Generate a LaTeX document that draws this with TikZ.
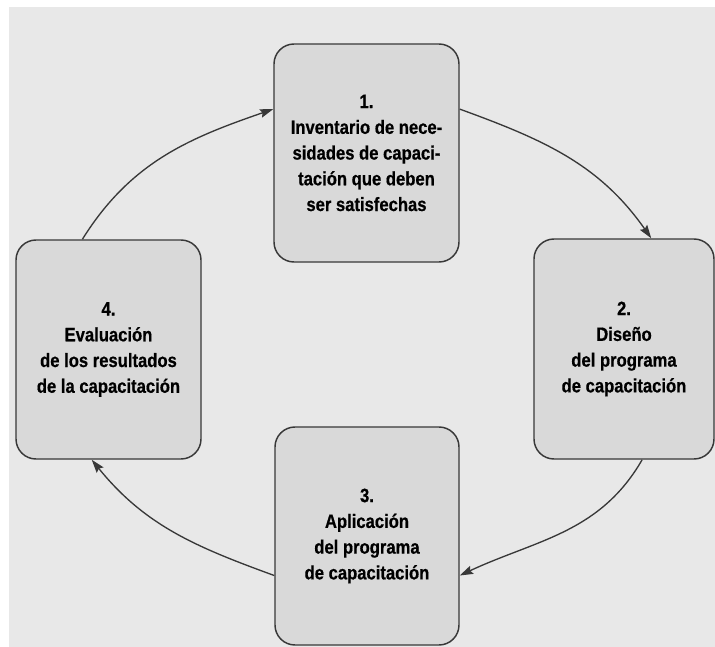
\documentclass[tikz,border=0pt]{standalone}
\usepackage{fontspec}
\setmainfont{Liberation Sans}[FakeStretch=0.86, BoldFeatures={FakeBold=0.6}]
\usetikzlibrary{calc,arrows.meta}
\definecolor{bggray}{HTML}{E8E8E8}
\definecolor{boxgray}{HTML}{D9D9D9}
\definecolor{edgegray}{HTML}{383838}
\begin{document}
\begin{tikzpicture}[x=0.75pt, y=-0.75pt,
    stage/.style={rectangle, draw=edgegray, fill=boxgray, line width=1.1pt,
        rounded corners=15pt, align=center, inner sep=0pt,
        font=\fontsize{14.5}{19.3}\selectfont\bfseries},
    >={Stealth[length=10pt,width=6.5pt,inset=1.5pt]}]

    \useasboundingbox (0,0) rectangle (715,647);
    \fill[bggray] (9,7) rectangle (715,647);

    \node[stage, minimum width=138.75pt, minimum height=163.5pt] (A) at (366.5,153)
        {1.\\Inventario de nece-\\sidades de capaci-\\tación que deben\\ser satisfechas};
    \node[stage, minimum width=135pt, minimum height=165pt] (B) at (624,349)
        {2.\\Diseño\\del programa\\de capacitación};
    \node[stage, minimum width=138pt, minimum height=163.5pt] (C) at (367,536)
        {3.\\Aplicación\\del programa\\de capacitación};
    \node[stage, minimum width=138.75pt, minimum height=164.25pt] (D) at (108.5,349.5)
        {4.\\Evaluación\\de los resultados\\de la capacitación};

    \draw[->, line width=1pt, edgegray] ($(D.north west)!0.36!(D.north east)$)
        to[out=58, in=199] ($(A.north west)!0.3!(A.south west)$);
    \draw[->, line width=1pt, edgegray] ($(A.north east)!0.3!(A.south east)$)
        to[out=-20, in=125] ($(B.north west)!0.65!(B.north east)$);
    \draw[->, line width=1pt, edgegray] ($(B.south west)!0.6!(B.south east)$)
        to[out=-120, in=25] ($(C.north east)!0.68!(C.south east)$);
    \draw[->, line width=1pt, edgegray] ($(C.north west)!0.68!(C.south west)$)
        to[out=160, in=-51] ($(D.south west)!0.41!(D.south east)$);
\end{tikzpicture}
\end{document}
